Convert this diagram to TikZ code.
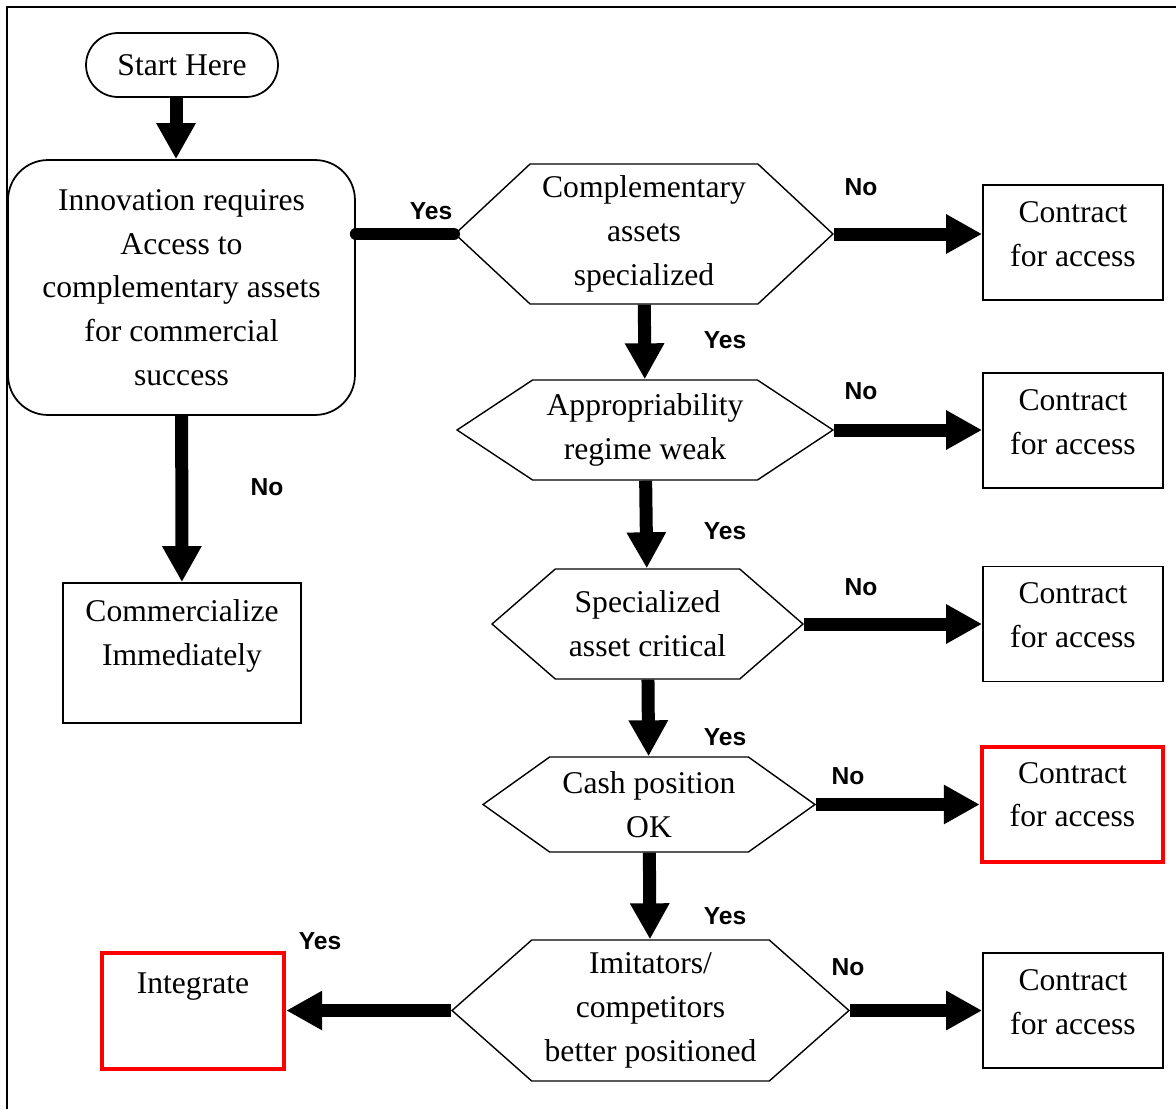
\documentclass[tikz,border=0pt]{standalone}
\usepackage{fontspec}
\setmainfont{Liberation Serif}
\newfontfamily\yesnofont{Liberation Sans}
\usetikzlibrary{arrows.meta,shapes.symbols,positioning}

\begin{document}
\begin{tikzpicture}[x=0.02cm,y=-0.02cm,
            font=\fontsize{18}{24.9}\selectfont,
            flow/.style={line width=0.26cm,-{Triangle[length=0.72cm,width=0.74cm]}},
            hex/.style={signal,signal to=east and west,draw,line width=0.8pt,align=center,inner sep=0pt},
            roundbox/.style={rectangle,draw,line width=1pt,align=center},
            box/.style={rectangle,draw,line width=1pt},
            contract/.style={box,minimum width=3.6cm,minimum height=2.3cm},
            redbox/.style={rectangle,draw=red,line width=0.09cm},
            boxtext/.style={anchor=north,yshift=-0.34cm,align=center,inner sep=0pt},
            yn/.style={font=\fontsize{14}{16}\selectfont\yesnofont\bfseries},
        ]
        \useasboundingbox (0,0) rectangle (1176,1109);
        \draw[line width=0.04cm] (1176,7) -- (7,7) -- (7,1109);

        % left column
        \node[roundbox,rounded corners=0.64cm,minimum width=3.84cm,minimum height=1.28cm] (start) at (182,65) {Start Here};
        \node[roundbox,rounded corners=0.8cm,minimum width=6.94cm,minimum height=5.1cm] (innov) at (181.5,287.5)
            {Innovation requires\\Access to\\complementary assets\\for commercial\\success};
        \node[box,minimum width=4.76cm,minimum height=2.8cm,label={[boxtext]north:{Commercialize\\Immediately}}] (comm) at (182,653) {};
        \node[redbox,minimum width=3.64cm,minimum height=2.32cm,label={[boxtext,yshift=-0.1cm]north:Integrate}] (integ) at (193,1011) {};

        % decisions
        \node[hex,signal pointer angle=86,minimum width=7.56cm,minimum height=2.8cm] (spec) at (644,234) {Complementary\\assets\\specialized};
        \node[hex,signal pointer angle=67,minimum width=7.52cm,minimum height=2cm] (regime) at (645,430) {Appropriability\\regime weak};
        \node[hex,signal pointer angle=82,minimum width=6.22cm,minimum height=2.2cm] (crit) at (647.5,624) {Specialized\\asset critical};
        \node[hex,signal pointer angle=71,minimum width=6.64cm,minimum height=1.9cm] (cash) at (649,804.5) {Cash position\\OK};
        \node[hex,signal pointer angle=83,minimum width=7.94cm,minimum height=2.82cm] (imit) at (650.5,1010.5) {Imitators/\\competitors\\better positioned};

        % contract boxes
        \node[contract,label={[boxtext]north:{Contract\\for access}}] (acc1) at (1073,242.5) {};
        \node[contract,label={[boxtext]north:{Contract\\for access}}] (acc2) at (1073,430.5) {};
        \node[contract,label={[boxtext]north:{Contract\\for access}}] (acc3) at (1073,624) {};
        \node[redbox,minimum width=3.62cm,minimum height=2.3cm,label={[boxtext]north:{Contract\\for access}}] (acc4) at (1072.5,804.5) {};
        \node[contract,label={[boxtext]north:{Contract\\for access}}] (acc5) at (1073,1010.5) {};

        % connectors
        \draw[flow] ([xshift=-0.12cm]start.south) -- ([xshift=-0.12cm]start.south |- innov.north);
        \draw[flow] (innov) -- (comm);
        \draw[line width=0.24cm,line cap=round] (innov.east |- spec.west) -- (spec.west);
        \draw[flow] (spec) -- (regime);
        \draw[flow] (regime) -- (crit);
        \draw[flow] (crit) -- (cash);
        \draw[flow] (cash) -- (imit);
        \draw[flow] (spec.east) -- (spec.east -| acc1.west);
        \draw[flow] (regime.east) -- (regime.east -| acc2.west);
        \draw[flow] (crit.east) -- (crit.east -| acc3.west);
        \draw[flow] (cash.east) -- (cash.east -| acc4.west);
        \draw[flow] (imit.east) -- (imit.east -| acc5.west);
        \draw[flow] (imit.west) -- (imit.west -| integ.east);

        % yes / no
        \node[yn] (y1) at (431,211) {Yes};
        \node[yn] (n0) at (267,487) {No};
        \node[yn] (n1) at (861,187) {No};
        \node[yn] (y2) at (725,340) {Yes};
        \node[yn] (n2) at (861,391) {No};
        \node[yn] (y3) at (725,531) {Yes};
        \node[yn] (n3) at (861,587) {No};
        \node[yn] (y4) at (725,737) {Yes};
        \node[yn] (n4) at (848,776) {No};
        \node[yn] (y5) at (725,916) {Yes};
        \node[yn] (n5) at (848,967) {No};
        \node[yn] (y6) at (320,941) {Yes};
    \end{tikzpicture}
\end{document}
